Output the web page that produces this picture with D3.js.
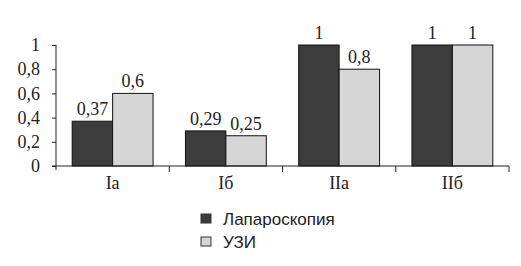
<!DOCTYPE html>
<html><head><meta charset="utf-8">
<script src="https://cdn.jsdelivr.net/npm/d3@7"></script>
<style>body{margin:0;background:#fff}svg{display:block}</style>
</head><body>
<script>
const categories = ["Ia", "Iб", "IIa", "IIб"];
const seriesNames = ["Лапароскопия", "УЗИ"];
const laparoscopy = [0.37, 0.29, 1, 1];
const uzi = [0.6, 0.25, 0.8, 1];
const valueLabels = [["0,37","0,29","1","1"],["0,6","0,25","0,8","1"]];
const yTicks = [0, 0.2, 0.4, 0.6, 0.8, 1];
const colors = ["#3c3c3c", "#d6d6d6"];

(function () {
const W = 521, H = 266;
const svg = d3.select("body").append("svg").attr("width", W).attr("height", H);
const mLeft = 56, mRight = 509, mTop = 45, mBottom = 166;
const serif = "'Liberation Serif','Times New Roman',serif";

const x0 = d3.scaleBand().domain(categories).range([mLeft, mRight]).paddingInner(0.286).paddingOuter(0.143);
const x1 = d3.scaleBand().domain(d3.range(seriesNames.length)).range([0, x0.bandwidth()]);
const y = d3.scaleLinear().domain([0, 1]).range([mBottom, mTop]);

const series = [laparoscopy, uzi];

series.forEach((vals, si) => {
  svg.append("g").selectAll("rect").data(vals).join("rect")
    .attr("x", (d, i) => x0(categories[i]) + x1(si))
    .attr("y", d => y(d))
    .attr("width", x1.bandwidth())
    .attr("height", d => y(0) - y(d))
    .attr("fill", colors[si])
    .attr("stroke", "#111").attr("stroke-width", 1);
  svg.append("g").selectAll("text").data(vals).join("text")
    .attr("x", (d, i) => x0(categories[i]) + x1(si) + x1.bandwidth() / 2)
    .attr("y", d => y(d) - 6)
    .attr("text-anchor", "middle")
    .attr("font-family", serif).attr("font-size", 18).attr("fill", "#222")
    .text((d, i) => valueLabels[si][i]);
});

const yAxis = d3.axisLeft(y).tickValues(yTicks).tickSize(4).tickPadding(12)
  .tickFormat(d => d3.format(".1~f")(d).replace(".", ","));
const gy = svg.append("g").attr("transform", `translate(${mLeft},0)`).call(yAxis);
gy.attr("font-family", serif).attr("font-size", 18);
gy.select(".domain").attr("d", `M0,${mTop}V${mBottom + 4}`).attr("stroke", "#222");
gy.selectAll(".tick line").attr("stroke", "#222");
gy.selectAll(".tick text").attr("fill", "#222");

const gx = svg.append("g").attr("transform", `translate(0,${mBottom})`);
gx.append("line").attr("x1", mLeft - 4).attr("x2", mRight).attr("y1", 0).attr("y2", 0).attr("stroke", "#222");
const bounds = categories.map(c => x0(c) - x0.step() * x0.paddingInner() / 2).concat([mRight]);
gx.selectAll("line.tk").data(bounds.slice(1)).join("line").attr("class", "tk")
  .attr("x1", d => d).attr("x2", d => d).attr("y1", 0).attr("y2", 6).attr("stroke", "#222");
gx.selectAll("text").data(categories).join("text")
  .attr("x", d => x0(d) + x0.bandwidth() / 2).attr("y", 23)
  .attr("text-anchor", "middle").attr("font-family", serif).attr("font-size", 18).attr("fill", "#222")
  .text(d => d);

const lg = svg.append("g");
seriesNames.forEach((n, i) => {
  const yy = 214 + i * 23;
  lg.append("rect").attr("x", 201).attr("y", yy).attr("width", 10).attr("height", 9)
    .attr("fill", colors[i]).attr("stroke", "#333").attr("stroke-width", 1);
  lg.append("text").attr("x", 223).attr("y", yy + 11)
    .attr("font-family", "'Liberation Sans',Arial,sans-serif").attr("font-size", 17).attr("fill", "#222")
    .text(n);
});
})();
</script>
</body></html>
